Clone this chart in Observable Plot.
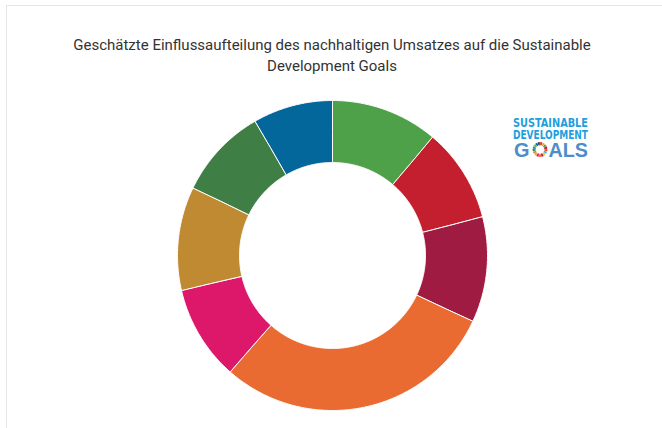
<!DOCTYPE html>
<html>
<head>
<meta charset="utf-8">
<script src="https://cdn.jsdelivr.net/npm/d3@7"></script>
<script src="https://cdn.jsdelivr.net/npm/@observablehq/plot@0.6"></script>
<style>
  html, body { margin: 0; padding: 0; background: #fff; }
  #page { position: relative; width: 662px; height: 428px; overflow: hidden; font-family: Roboto, "Liberation Sans", sans-serif; }
  #frame { position: absolute; left: 6px; top: 5px; width: 700px; height: 500px; border: 1px solid #e6e6e6; box-sizing: border-box; }
  #title { position: absolute; left: 0; top: 35px; width: 664px; text-align: center; font-size: 15px; line-height: 21px; color: #333; }
  #chart { position: absolute; left: 0; top: 0; }
  #logo { position: absolute; left: 500px; top: 104px; }
</style>
</head>
<body>
<div id="page">
  <div id="frame"></div>
  <div id="chart"></div>
  <div id="title">Geschätzte Einflussaufteilung des nachhaltigen Umsatzes auf die Sustainable<br>Development Goals</div>
  <svg id="logo" width="110" height="66"></svg>
</div>
<script>
// ---- data ----
const goals = ["SDG 3", "SDG 4", "SDG 8", "SDG 9", "SDG 10", "SDG 12", "SDG 13", "SDG 16"];
const shares = [11.2, 9.8, 11.0, 29.5, 9.9, 10.8, 9.5, 8.3];
const colors = ["#4ea148", "#c41f2e", "#a01b42", "#ea6b31", "#dd1769", "#bf8a31", "#3f7f45", "#03679b"];
const logoLines = ["SUSTAINABLE", "DEVELOPMENT"];
const logoWord = ["G", "O", "ALS"];
const wheelColors = ["#e5243b","#dda63a","#4c9f38","#c5192d","#ff3a21","#26bde2","#fcc30b","#a21942","#fd6925","#dd1367","#fd9d24","#bf8b2e","#3f7e44","#0a97d9","#56c02b","#00689d","#19486a"];

// ---- build ring slices as geo polygons (azimuthal view from the pole) ----
const innerRatio = 0.6;
const latOuter = 0;                    // 90° from pole
const latInner = 90 - 90 * innerRatio; // 54° from pole
const total = d3.sum(shares);
const lonOf = t => 180 - t;            // clockwise angle from top -> longitude
let acc = 0;
const features = goals.map((g, i) => {
  const a0 = acc / total * 360;
  acc += shares[i];
  const a1 = acc / total * 360;
  const n = Math.max(2, Math.ceil((a1 - a0) / 0.5));
  const ring = [];
  for (let k = 0; k <= n; k++) ring.push([lonOf(a0 + (a1 - a0) * k / n), latOuter]);
  for (let k = n; k >= 0; k--) ring.push([lonOf(a0 + (a1 - a0) * k / n), latInner]);
  ring.push(ring[0]);
  let f = {type: "Feature", properties: {goal: g, share: shares[i]}, geometry: {type: "Polygon", coordinates: [ring]}};
  if (d3.geoArea(f) > 2 * Math.PI) f.geometry.coordinates = [ring.slice().reverse()];
  return f;
});

const chart = Plot.plot({
  width: 662,
  height: 428,
  marginLeft: 177,
  marginRight: 175,
  marginTop: 100,
  marginBottom: 18,
  projection: {
    type: "azimuthal-equidistant",
    rotate: [0, -90],
    domain: d3.geoCircle().center([0, 90]).radius(90)(),
    inset: 0
  },
  color: {domain: goals, range: colors},
  marks: [
    Plot.geo(features, {fill: d => d.properties.goal, stroke: "#ffffff", strokeWidth: 1, strokeLinejoin: "round"})
  ]
});
chart.style.background = "transparent";
document.getElementById("chart").appendChild(chart);

// ---- SDG logo (local coords: page x - 500, page y - 104) ----
const logo = d3.select("#logo");
const fam = "'Liberation Sans Narrow', 'DejaVu Sans Condensed', sans-serif";
logo.append("text").attr("x", 13).attr("y", 23.4).attr("textLength", 75).attr("lengthAdjust", "spacingAndGlyphs")
  .attr("font-family", fam).attr("font-weight", "bold").attr("font-size", 11.8).attr("fill", "#1f9fdc").text(logoLines[0]);
logo.append("text").attr("x", 13).attr("y", 35.4).attr("textLength", 75).attr("lengthAdjust", "spacingAndGlyphs")
  .attr("font-family", fam).attr("font-weight", "bold").attr("font-size", 11.8).attr("fill", "#1f9fdc").text(logoLines[1]);
const gfam = "'Liberation Sans', Arial, sans-serif";
logo.append("text").attr("x", 14).attr("y", 52.6).attr("textLength", 15.5).attr("lengthAdjust", "spacingAndGlyphs")
  .attr("font-family", gfam).attr("font-weight", "bold").attr("font-size", 19.5).attr("fill", "#4d8dc9").text(logoWord[0]);
logo.append("text").attr("x", 32.5).attr("y", 52.6).attr("textLength", 15).attr("lengthAdjust", "spacingAndGlyphs")
  .attr("font-family", gfam).attr("font-weight", "bold").attr("font-size", 19.5).attr("fill", "transparent").text(logoWord[1]);
logo.append("text").attr("x", 48.5).attr("y", 52.6).attr("textLength", 39.5).attr("lengthAdjust", "spacingAndGlyphs")
  .attr("font-family", gfam).attr("font-weight", "bold").attr("font-size", 19.5).attr("fill", "#4d8dc9").text(logoWord[2]);
// wheel replacing the O
const wc = {x: 40, y: 45.5, r0: 4.3, r1: 7.4};
const pie = d3.pie().value(1).sort(null)(wheelColors);
const arc = d3.arc().innerRadius(wc.r0).outerRadius(wc.r1).padAngle(0.04);
logo.append("g").attr("transform", `translate(${wc.x},${wc.y})`).selectAll("path").data(pie).join("path")
  .attr("d", arc).attr("fill", d => d.data);
</script>
</body>
</html>
